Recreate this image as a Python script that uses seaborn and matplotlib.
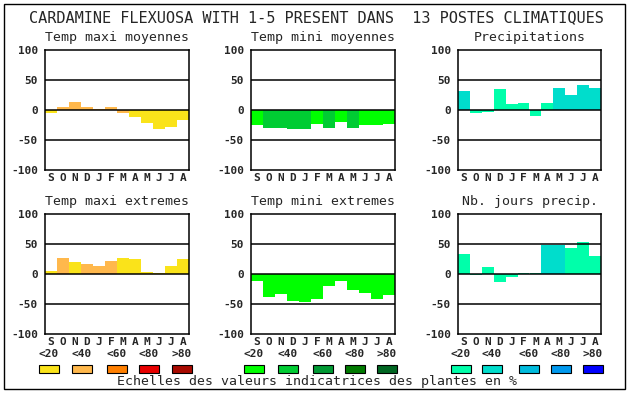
import matplotlib
matplotlib.use("Agg")
import matplotlib.pyplot as plt
from matplotlib.patches import Rectangle
import seaborn as sns
import pandas as pd

sns.set_style("white")
plt.rcParams['font.family'] = ['DejaVu Sans Mono', 'DejaVu Sans']

# ---- data ----
months = ["S", "O", "N", "D", "J", "F", "M", "A", "M", "J", "J", "A"]
ytick_vals = [-100, -50, 0, 50, 100]
scale_labels = ["<20", "<40", "<60", "<80", ">80"]

title = "CARDAMINE FLEXUOSA WITH 1-5 PRESENT DANS  13 POSTES CLIMATIQUES"
footer = "Echelles des valeurs indicatrices des plantes en %"

panel_titles = ["Temp maxi moyennes", "Temp mini moyennes", "Precipitations",
                "Temp maxi extremes", "Temp mini extremes", "Nb. jours precip."]

temp_maxi_moy = [-5, 5.5, 14, 5.5, 2, 5.5, -5.5, -11, -22, -31, -28, -16]
temp_maxi_moy_cls = [0, 1, 1, 1, 1, 1, 1, 0, 0, 0, 0, 0]

temp_mini_moy = [-25.5, -30.5, -30.5, -32, -32, -24, -30.5, -20.5, -30.5, -25.5, -25.5, -24]
temp_mini_moy_cls = [0, 1, 1, 1, 1, 0, 1, 0, 1, 0, 0, 0]

precip = [32, -5.5, -4, 35.5, 10.5, 12, -10.5, 12, 37, 25.5, 42, 37]
precip_cls = [1, 0, 0, 0, 0, 0, 0, 0, 1, 1, 1, 1]

temp_maxi_ext = [5.5, 27, 20.5, 17, 14, 22, 27, 25.5, 4, 2, 14, 25.5]
temp_maxi_ext_cls = [0, 1, 0, 1, 1, 1, 0, 0, 0, 0, 0, 0]

temp_mini_ext = [-12, -38, -33, -45.5, -47, -42, -20.5, -12, -27, -32, -42, -35.5]
temp_mini_ext_cls = [0, 0, 0, 0, 0, 0, 0, 0, 0, 0, 0, 0]

nb_jours = [34, -2, 12, -14, -5.5, 2, 2, 49, 49, 44, 54, 30.5]
nb_jours_cls = [0, 0, 0, 0, 0, 0, 0, 1, 1, 0, 0, 0]

pal_maxi = ['#FAE31A', '#FFB84C', '#FF7F00', '#E80000', '#A80A00']
pal_mini = ['#00FF00', '#00CC33', '#009933', '#007A00', '#006622']
pal_prec = ['#00FFAA', '#00DDCC', '#00BBDD', '#0099EE', '#0000FF']

panels = [
    (temp_maxi_moy, temp_maxi_moy_cls, pal_maxi),
    (temp_mini_moy, temp_mini_moy_cls, pal_mini),
    (precip, precip_cls, pal_prec),
    (temp_maxi_ext, temp_maxi_ext_cls, pal_maxi),
    (temp_mini_ext, temp_mini_ext_cls, pal_mini),
    (nb_jours, nb_jours_cls, pal_prec),
]

# ---- layout (pixel helpers) ----
W, H = 630, 394
fig = plt.figure(figsize=(W / 100, H / 100), dpi=100)
fig.patch.set_facecolor("white")


def fx(x):
    return x / W


def fy(y):
    return 1 - y / H


col_x = [(45, 189), (251, 395), (458, 601)]
row_y = [(50, 170), (214, 334)]

# outer border
fig.add_artist(Rectangle((fx(4), fy(389)), fx(621), (385) / H, transform=fig.transFigure,
                         fill=False, edgecolor="black", linewidth=1.0))

fig.text(fx(316), fy(18), title, ha="center", va="center", fontsize=11,
         fontweight="normal")

for i, (vals, cls, pal) in enumerate(panels):
    r, c = divmod(i, 3)
    x0, x1 = col_x[c]
    y0, y1 = row_y[r]
    ax = fig.add_axes([fx(x0), fy(y1), (x1 - x0) / W, (y1 - y0) / H])
    df = pd.DataFrame({"pos": list(range(12)), "val": vals,
                       "color": [pal[k] for k in cls]})
    cmap = {p: col for p, col in zip(df["pos"], df["color"])}
    sns.barplot(data=df, x="pos", y="val", hue="pos", palette=cmap,
                legend=False, width=1.0, saturation=1, linewidth=0,
                edgecolor="none", ax=ax, zorder=1)
    for yv in (50, 0, -50):
        ax.axhline(yv, color="black", linewidth=1.1, zorder=3)
    ax.set_xlim(-0.5, 11.5)
    ax.set_ylim(-100, 100)
    ax.set_yticks(ytick_vals)
    ax.set_yticklabels([str(v) for v in ytick_vals], fontsize=8, fontweight="bold")
    ax.set_xticks(range(12))
    ax.set_xticklabels(months, fontsize=8, fontweight="bold")
    ax.tick_params(axis="both", length=0)
    ax.tick_params(axis="y", pad=5)
    ax.tick_params(axis="x", pad=2)
    ax.set_xlabel("")
    ax.set_ylabel("")
    for s in ax.spines.values():
        s.set_visible(True)
        s.set_color("black")
        s.set_linewidth(1.1)
    ax.set_facecolor("white")
    fig.text(fx((x0 + x1) / 2), fy(y0 - 12), panel_titles[i], ha="center",
             va="center", fontsize=9.5)

# legend scales
sq_x = [[39, 72, 107, 139, 172], [244, 278, 313, 345, 377], [451, 482, 519, 551, 583]]
pals = [pal_maxi, pal_mini, pal_prec]
for g in range(3):
    for k in range(5):
        xs = sq_x[g][k]
        fig.add_artist(Rectangle((fx(xs), fy(373)), 20 / W, 8 / H,
                                 transform=fig.transFigure, facecolor=pals[g][k],
                                 edgecolor="black", linewidth=0.8))
        fig.text(fx(xs + 10), fy(354), scale_labels[k], ha="center", va="center",
                 fontsize=8, fontweight="bold")

fig.text(fx(317), fy(381), footer, ha="center", va="center", fontsize=9.5)

fig.savefig("out.png", dpi=100)
